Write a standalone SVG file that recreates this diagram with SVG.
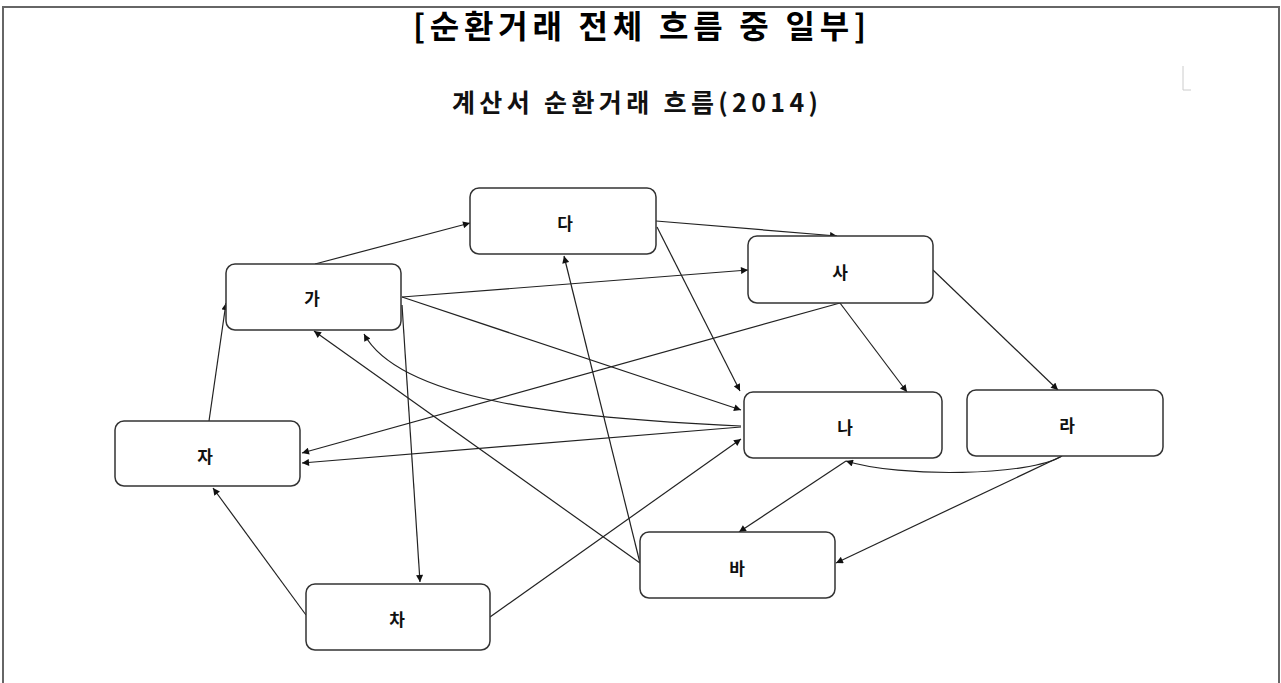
<svg xmlns="http://www.w3.org/2000/svg" width="1281" height="683" viewBox="0 0 1281 683">
<style>
.node rect{fill:#fff;stroke:#333;stroke-width:1.5}
.node text{font-family:"Noto Sans CJK KR","Noto Sans",sans-serif;font-size:17px;font-weight:700;fill:#111;text-anchor:middle;dominant-baseline:central}
#connectors path{fill:none;stroke:#222;stroke-width:1.2;marker-end:url(#arr)}
.title{font-family:"Noto Sans CJK KR",sans-serif;font-size:32px;font-weight:700;fill:#000}
.sub{font-family:"Noto Sans CJK KR",serif;font-size:25px;font-weight:700;fill:#111}
</style>
<defs>
<marker id="arr" viewBox="0 0 10 10" refX="10" refY="5" markerWidth="8" markerHeight="7" markerUnits="userSpaceOnUse" orient="auto">
<path d="M0,0 L10,5 L0,10 z" fill="#111"/>
</marker>
</defs>
<rect width="1281" height="683" fill="#fff"/>
<path d="M3,683 V7 H1279 V683" fill="none" stroke="#666" stroke-width="2"/>
<text class="title" x="413" y="38" textLength="453" lengthAdjust="spacing">[순환거래 전체 흐름 중 일부]</text>
<text class="sub" x="452" y="112" textLength="366" lengthAdjust="spacing">계산서 순환거래 흐름(2014)</text>
<path d="M1183,66 V90 H1191" fill="none" stroke="#ccc" stroke-width="1"/>
<g id="connectors">
<path d="M315,264 L470,223"/>
<path d="M656,221 L837,236"/>
<path d="M657,227 L740,391"/>
<path d="M402,297 L748,270"/>
<path d="M402,297 L741,410"/>
<path d="M402,305 L420,582"/>
<path d="M741,426 C560,418 400,400 364,334"/>
<path d="M741,427 L302,463"/>
<path d="M840,303 L302,453"/>
<path d="M840,303 L907,392"/>
<path d="M933,270 L1058,390"/>
<path d="M1062,456 C1030,476 900,478 846,461"/>
<path d="M1062,456 L836,563"/>
<path d="M846,461 L739,532"/>
<path d="M640,563 L314,331"/>
<path d="M640,563 L564,256"/>
<path d="M490,617 L741,439"/>
<path d="M306,615 L213,488"/>
<path d="M209,421 L226,303"/>
</g>
<g id="node-da" class="node"><rect x="470" y="188" width="186" height="66" rx="9"/><text x="565" y="222">다</text></g>
<g id="node-ga" class="node"><rect x="226" y="264" width="175" height="66" rx="9"/><text x="312" y="297">가</text></g>
<g id="node-sa" class="node"><rect x="748" y="236" width="185" height="67" rx="9"/><text x="840" y="271">사</text></g>
<g id="node-ja" class="node"><rect x="115" y="421" width="185" height="65" rx="9"/><text x="205" y="455">자</text></g>
<g id="node-na" class="node"><rect x="744" y="392" width="198" height="66" rx="9"/><text x="845" y="426">나</text></g>
<g id="node-ra" class="node"><rect x="967" y="390" width="196" height="66" rx="9"/><text x="1067" y="424">라</text></g>
<g id="node-ba" class="node"><rect x="640" y="532" width="195" height="66" rx="9"/><text x="737" y="567">바</text></g>
<g id="node-cha" class="node"><rect x="306" y="584" width="184" height="66" rx="9"/><text x="397" y="618">차</text></g>
</svg>
